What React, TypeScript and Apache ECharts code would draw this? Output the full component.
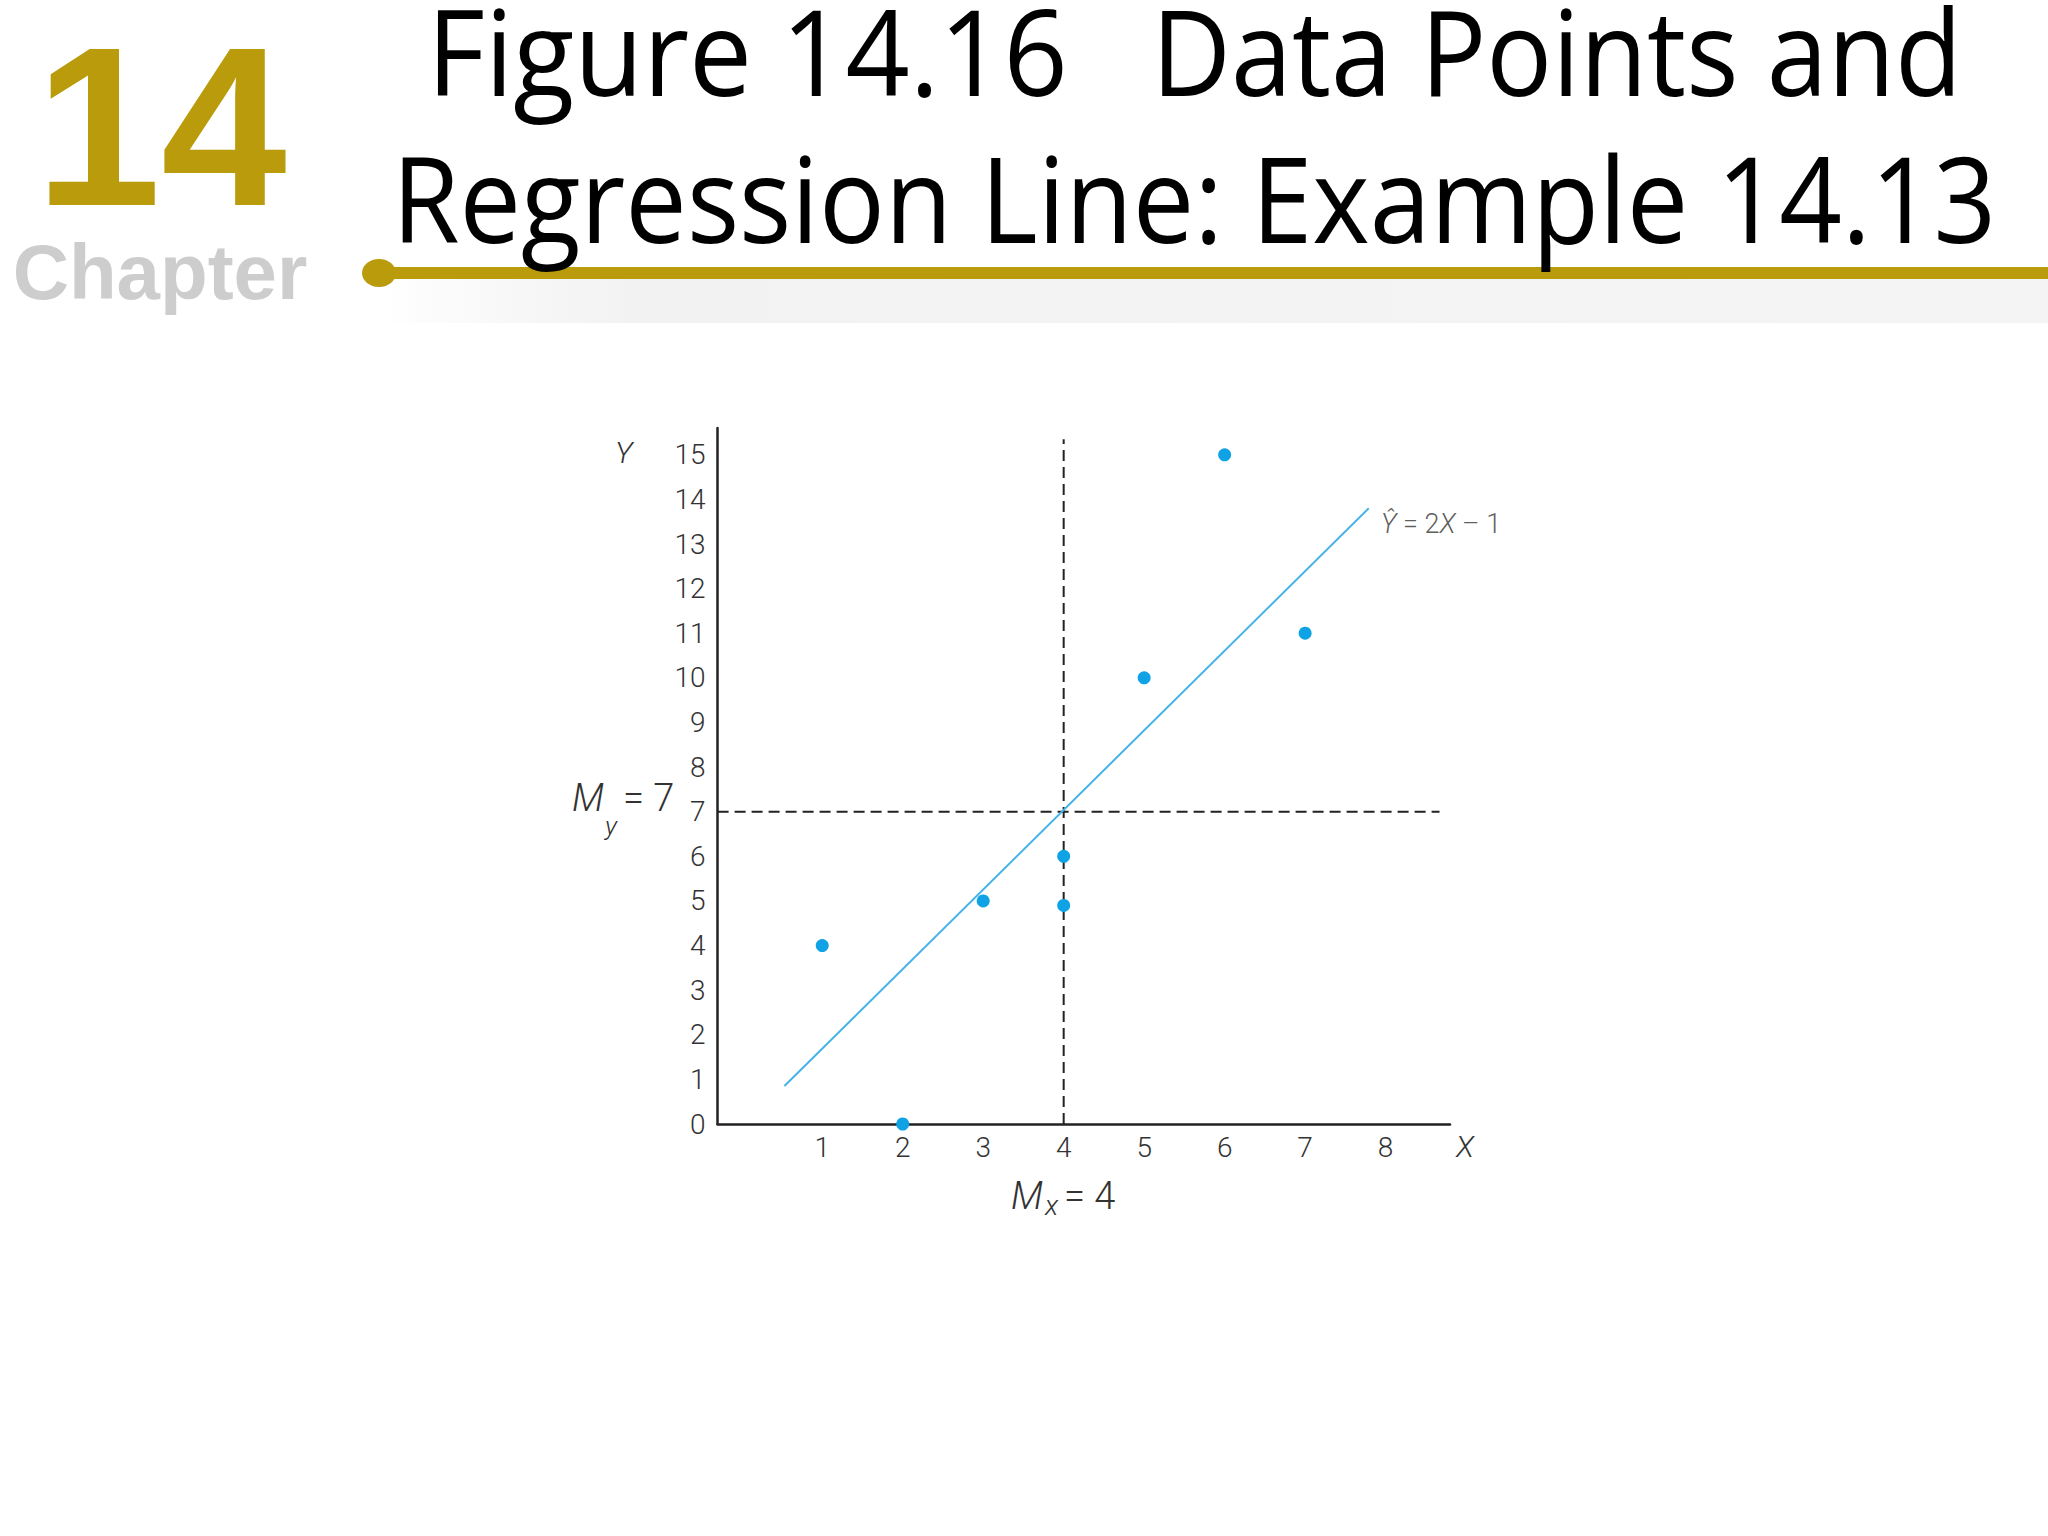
import React, { useEffect, useRef } from 'react';
import * as echarts from 'echarts';

// data (Example 14.13)
const xValues = [1, 2, 3, 4, 4, 5, 6, 7];
const yValues = [4, 0, 5, 6, 4.9, 10, 15, 11];
const xTicks = [1, 2, 3, 4, 5, 6, 7, 8];
const yTicks = [0, 1, 2, 3, 4, 5, 6, 7, 8, 9, 10, 11, 12, 13, 14, 15];
const meanX = 4;
const meanY = 7;
const regX = [0.53, 7.79];
const regY = [0.85, 13.8];
const xRange = [-0.3, 8.8];
const yRange = [0, 15.6];
const meanXTop = 15.35;
const meanYRight = 8.67;

const GOLD = '#b99b0b';
const BLUE = '#0fa3e6';
const INK = '#222';
const LIGHT = 'Roboto, "Open Sans", sans-serif';
const TITLE = '"Open Sans", "Noto Sans", sans-serif';

const measureInk = (text: string, font: string) => {
  const ctx = document.createElement('canvas').getContext('2d');
  if (!ctx) return 0;
  ctx.font = font;
  const m = ctx.measureText(text);
  return (m.actualBoundingBoxLeft || 0) + (m.actualBoundingBoxRight || m.width);
};

const titleText = (text: string, x: number, y: number, target: number, align: string) => {
  const size = 119;
  const ink = measureInk(text, `400 ${size}px ${TITLE}`);
  const sx = ink > 0 ? target / ink : 0.8;
  return {
    type: 'text',
    x,
    y,
    scaleX: sx,
    style: {
      text,
      fontSize: size,
      lineHeight: 96,
      fontFamily: TITLE,
      fill: '#000',
      align,
      textAlign: align,
      verticalAlign: 'middle',
      textVerticalAlign: 'middle',
    },
  };
};

const plainText = (text: string, x: number, y: number, size: number, opts: any = {}) => ({
  type: 'text',
  x,
  y,
  style: {
    text,
    fontSize: size,
    fontFamily: LIGHT,
    fontWeight: 300,
    fill: '#333',
    align: 'left',
    textAlign: 'left',
    verticalAlign: 'middle',
    textVerticalAlign: 'middle',
    ...opts,
  },
});

const App: React.FC = () => {
  const chartRef = useRef<HTMLDivElement>(null);

  useEffect(() => {
    if (!chartRef.current) return;
    const chart = echarts.init(chartRef.current, undefined, { renderer: 'svg' });

    const option = {
      animation: false,
      backgroundColor: '#fff',
      grid: { left: 717.6, top: 428, width: 732.4, height: 696 },
      xAxis: {
        type: 'value',
        min: xRange[0],
        max: xRange[1],
        splitNumber: 9,
        minInterval: 1,
        maxInterval: 1,
        axisLine: { onZero: false, lineStyle: { color: INK, width: 2.5 } },
        axisTick: { show: false },
        splitLine: { show: false },
        axisLabel: {
          margin: 9,
          fontSize: 28,
          fontFamily: LIGHT,
          fontWeight: 300,
          color: '#333',
          showMinLabel: false,
          showMaxLabel: false,
          formatter: (v: number) => (xTicks.includes(v) ? String(v) : ''),
        },
      },
      yAxis: {
        type: 'value',
        min: yRange[0],
        max: yRange[1],
        interval: 1,
        axisLine: { show: true, onZero: false, lineStyle: { color: INK, width: 2.5 } },
        axisTick: { show: false },
        splitLine: { show: false },
        axisLabel: {
          margin: 12,
          fontSize: 28,
          fontFamily: LIGHT,
          fontWeight: 300,
          color: '#333',
          showMaxLabel: false,
          formatter: (v: number) => (yTicks.includes(v) ? String(v) : ''),
        },
      },
      series: [
        {
          type: 'line',
          data: [[meanX, 0], [meanX, meanXTop]],
          symbol: 'none',
          lineStyle: { color: INK, width: 2, type: [11, 6] },
          z: 2,
        },
        {
          type: 'line',
          data: [[xRange[0], meanY], [meanYRight, meanY]],
          symbol: 'none',
          lineStyle: { color: INK, width: 2, type: [11, 6] },
          z: 2,
        },
        {
          type: 'line',
          data: regX.map((x, i) => [x, regY[i]]),
          symbol: 'none',
          lineStyle: { color: '#45b2e8', width: 2 },
          z: 3,
        },
        {
          type: 'scatter',
          data: [[regX[1], regY[1]]],
          symbolSize: 0,
          label: {
            show: true,
            position: 'right',
            distance: 12,
            offset: [0, 16],
            formatter: '{i|Ŷ} = 2{i|X} – 1',
            fontSize: 27,
            fontFamily: LIGHT,
            fontWeight: 300,
            color: '#333',
            rich: {
              i: { fontSize: 27, fontFamily: LIGHT, fontWeight: 300, fontStyle: 'italic', color: '#333' },
            },
          },
          z: 4,
        },
        {
          type: 'scatter',
          data: xValues.map((x, i) => [x, yValues[i]]),
          symbolSize: 13,
          itemStyle: { color: BLUE, opacity: 1 },
          z: 5,
        },
      ],
      graphic: [
        // header band
        {
          type: 'rect',
          shape: { x: 380, y: 279, width: 1668, height: 44 },
          style: {
            fill: new echarts.graphic.LinearGradient(0, 0, 1, 0, [
              { offset: 0, color: 'rgba(240,240,240,0)' },
              { offset: 0.15, color: '#f2f2f2' },
              { offset: 1, color: '#f4f4f4' },
            ]),
          },
          z: 0,
        },
        {
          type: 'line',
          shape: { x1: 379, y1: 273, x2: 2048, y2: 273 },
          style: { stroke: GOLD, lineWidth: 12 },
        },
        {
          type: 'ellipse',
          shape: { cx: 379, cy: 273, rx: 17, ry: 14 },
          style: { fill: GOLD },
        },
        {
          type: 'text',
          x: 161,
          y: 126,
          style: {
            text: '14',
            fontSize: 226,
            lineHeight: 176,
            fontWeight: 'bold',
            fontFamily: '"Liberation Sans", Arial, sans-serif',
            fill: GOLD,
            align: 'center',
            textAlign: 'center',
            verticalAlign: 'middle',
            textVerticalAlign: 'middle',
          },
        },
        {
          type: 'text',
          x: 160,
          y: 272,
          style: {
            text: 'Chapter',
            fontSize: 78,
            lineHeight: 70,
            fontWeight: 'bold',
            fontFamily: '"Liberation Sans", Arial, sans-serif',
            fill: '#cdcdcd',
            align: 'center',
            textAlign: 'center',
            verticalAlign: 'middle',
            textVerticalAlign: 'middle',
          },
        },
        titleText('Figure 14.16', 427, 50, 626, 'left'),
        titleText('Data Points and', 1962, 50, 791, 'right'),
        titleText('Regression Line: Example 14.13', 1194, 197, 1588, 'center'),
        // axis names and means
        plainText('Y', 615, 452, 30, { fontStyle: 'italic' }),
        plainText('X', 1456, 1146, 30, { fontStyle: 'italic' }),
        plainText('M', 572, 798, 38, { fontStyle: 'italic' }),
        plainText('y', 605, 826, 26, { fontStyle: 'italic' }),
        plainText('= 7', 623, 798, 38),
        plainText('M', 1011, 1196, 38, { fontStyle: 'italic' }),
        plainText('x', 1045, 1205, 28, { fontStyle: 'italic' }),
        plainText('= 4', 1064, 1196, 38),
      ],
    };

    chart.setOption(option);
    return () => chart.dispose();
  }, []);

  return (
    <div
      ref={chartRef}
      style={{ position: 'absolute', left: 0, top: 0, width: 2048, height: 1536, background: '#fff' }}
    />
  );
};

export default App;
